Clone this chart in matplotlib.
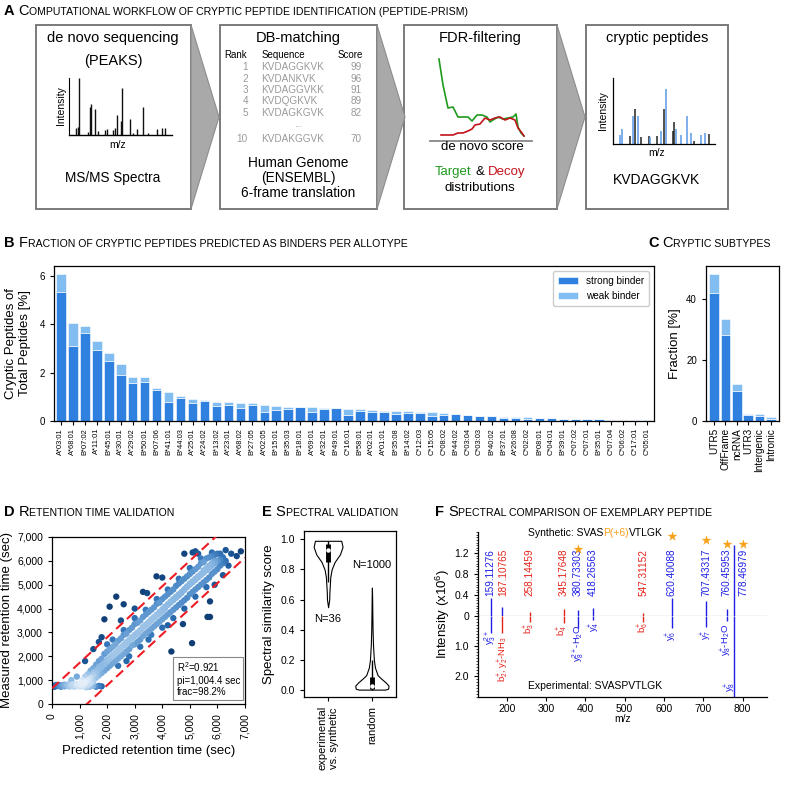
import numpy as np
import matplotlib
matplotlib.use('Agg')
import matplotlib.pyplot as plt
from matplotlib.patches import Rectangle, Polygon
from matplotlib.colors import LinearSegmentedColormap
from matplotlib.ticker import FuncFormatter, MultipleLocator

plt.rcParams['font.family'] = ['Liberation Sans', 'DejaVu Sans']
plt.rcParams['mathtext.fontset'] = 'custom'
plt.rcParams['mathtext.rm'] = 'Liberation Sans'
plt.rcParams['mathtext.it'] = 'Liberation Sans:italic'
plt.rcParams['mathtext.bf'] = 'Liberation Sans:bold'
plt.rcParams['axes.linewidth'] = 0.9

# ---------------- data ----------------
# Panel A mini charts
spec1_x = [7, 9, 10, 18, 20, 21, 25, 28, 35, 36.5, 43, 45, 47, 50, 51, 59, 62, 66, 72, 77, 85, 90, 93]
spec1_h = [0.12, 0.14, 1.0, 0.06, 0.5, 0.55, 0.45, 0.07, 0.08, 0.1, 0.08, 0.12, 0.35, 0.25, 0.82, 0.28, 0.04, 0.1, 0.5, 0.03, 0.1, 0.12, 0.12]
db_rank = ['1', '2', '3', '4', '5', '10']
db_seq = ['KVDAGGKVK', 'KVDANKVK', 'KVDAGGVKK', 'KVDQGKVK', 'KVDAGKGVK', 'KVDAKGGVK']
db_score = ['99', '96', '91', '89', '82', '70']
fdr_target_x = [9, 13, 18, 23, 28, 33, 38, 42, 47, 52, 57, 60, 63, 68, 73, 78, 83, 86, 88, 91, 94]
fdr_target_y = [82, 56, 33, 34, 24, 24, 24, 20, 26, 26, 24, 19, 21, 24, 22, 23, 24, 27, 14, 8, 5]
fdr_decoy_x = [11, 23, 28, 33, 38, 42, 45, 50, 55, 60, 65, 70, 75, 80, 85, 88, 92, 94]
fdr_decoy_y = [6, 6, 8, 8, 10, 12, 16, 17, 23, 21, 23, 24, 21, 23, 21, 13, 8, 5]
spec4_x = [7.2, 8.9, 17, 19.7, 21.3, 24.9, 27.9, 35.4, 36.7, 43.6, 46.6, 49.8, 51.8, 58.4, 59.7, 61.6, 66.9, 72.5, 76.4, 79.3, 85.9, 89.8, 94.4]
spec4_h = [0.14, 0.22, 0.12, 0.43, 0.53, 0.43, 0.1, 0.12, 0.1, 0.12, 0.2, 0.53, 0.84, 0.2, 0.34, 0.22, 0.14, 0.43, 0.17, 0.05, 0.14, 0.17, 0.15]
spec4_blue = [1, 1, 0, 1, 0, 1, 0, 0, 1, 0, 1, 0, 1, 0, 0, 1, 1, 1, 1, 0, 1, 1, 0]

# Panel B
allotypes = ['A*03:01', 'A*68:01', 'B*07:02', 'A*11:01', 'B*45:01', 'A*30:01', 'A*29:02', 'B*50:01',
             'B*07:06', 'B*41:01', 'B*44:03', 'A*25:01', 'A*24:02', 'B*13:02', 'A*23:01', 'A*68:02',
             'B*27:05', 'A*02:05', 'B*15:01', 'B*35:03', 'B*18:01', 'A*69:01', 'A*32:01', 'B*49:01',
             'C*16:01', 'B*58:01', 'A*02:01', 'A*01:01', 'B*35:08', 'B*14:02', 'C*12:03', 'C*15:05',
             'C*08:02', 'B*44:02', 'C*03:04', 'C*03:03', 'B*40:02', 'B*37:01', 'A*26:08', 'C*02:02',
             'B*08:01', 'C*04:01', 'B*39:01', 'C*07:02', 'C*07:01', 'B*35:01', 'C*07:04', 'C*06:02',
             'C*17:01', 'C*05:01']
binder_total = [6.07, 4.03, 3.93, 3.29, 2.82, 2.35, 1.83, 1.83, 1.36, 1.18, 1.03, 0.92, 0.87, 0.78, 0.78, 0.74,
                0.73, 0.67, 0.60, 0.59, 0.56, 0.56, 0.54, 0.52, 0.48, 0.48, 0.44, 0.43, 0.43, 0.41, 0.37, 0.37,
                0.31, 0.28, 0.25, 0.21, 0.21, 0.15, 0.15, 0.15, 0.12, 0.12, 0.10, 0.10, 0.09, 0.08, 0.06, 0.05,
                0.04, 0.03]
binder_strong = [5.31, 3.09, 3.64, 2.93, 2.47, 1.88, 1.58, 1.62, 1.30, 0.78, 0.96, 0.75, 0.84, 0.60, 0.67, 0.55,
                 0.65, 0.36, 0.45, 0.48, 0.56, 0.37, 0.49, 0.52, 0.25, 0.41, 0.36, 0.36, 0.29, 0.33, 0.33, 0.19,
                 0.23, 0.27, 0.23, 0.20, 0.19, 0.11, 0.14, 0.10, 0.12, 0.11, 0.09, 0.09, 0.08, 0.07, 0.05, 0.04,
                 0.03, 0.02]

# Panel C
subtypes = ['UTR5', 'OffFrame', 'ncRNA', 'UTR3', 'Intergenic', 'Intronic']
subtype_total = [48.3, 33.4, 12.0, 2.3, 2.2, 1.2]
subtype_strong = [42.0, 28.3, 9.9, 2.0, 1.5, 0.5]

# Panel D  (predicted, measured) retention times in seconds
rt_points = [
    (50, 760), (120, 740), (200, 780), (260, 750), (330, 720), (400, 770), (460, 740), (520, 800), (580, 760),
    (640, 730), (700, 790), (760, 750), (820, 720), (880, 780), (940, 760), (1000, 800), (1060, 740),
    (1120, 820), (1180, 760), (1240, 700), (1300, 780), (1360, 720), (1420, 760), (150, 800), (300, 790),
    (450, 810), (600, 820), (750, 830), (900, 850), (1050, 880), (1200, 900), (1350, 850), (1500, 760),
    (1600, 720), (1700, 760), (1800, 740), (80, 720), (350, 760), (680, 760), (980, 740), (1150, 760),
    (1100, 1000), (1200, 1150), (1300, 1000), (1300, 1250), (1400, 1100), (1400, 1400), (1400, 900),
    (1500, 1200), (1500, 1500), (1500, 950), (1500, 1300), (1600, 1300), (1600, 1650), (1600, 1100),
    (1600, 1400), (1700, 1450), (1700, 1800), (1700, 1200), (1700, 1550), (1800, 1550), (1800, 1900),
    (1800, 1300), (1800, 1620), (1900, 1650), (1900, 2100), (1900, 1400), (1900, 1720), (2000, 1780),
    (2000, 2200), (2000, 1500), (2000, 1850), (2000, 2500), (2100, 1900), (2100, 2300), (2100, 1600),
    (2100, 1950), (2200, 2000), (2200, 2400), (2200, 1700), (2200, 2050), (2200, 2700), (2300, 2100),
    (2300, 2500), (2300, 1800), (2300, 2150), (2400, 2200), (2400, 2650), (2400, 1900), (2400, 2280),
    (2400, 1600), (2500, 2300), (2500, 2750), (2500, 2000), (2500, 2380), (2600, 2450), (2600, 2900),
    (2600, 2100), (2600, 2480), (2600, 3100), (2700, 2550), (2700, 2950), (2700, 2200), (2700, 2600),
    (2800, 2650), (2800, 3100), (2800, 2300), (2800, 2700), (2800, 2000), (2900, 2750), (2900, 3200),
    (2900, 2450), (2900, 2800), (3000, 2850), (3000, 3350), (3000, 2500), (3000, 2900), (3000, 3600),
    (3100, 2950), (3100, 3400), (3100, 2600), (3100, 3000), (3200, 3050), (3200, 3500), (3200, 2700),
    (3200, 3100), (3200, 2400), (3300, 3200), (3300, 3650), (3300, 2850), (3300, 3230), (3400, 3300),
    (3400, 3750), (3400, 2950), (3400, 3330), (3400, 3950), (3500, 3400), (3500, 3850), (3500, 3050),
    (3500, 3430), (3600, 3500), (3600, 3950), (3600, 3150), (3600, 3550), (3600, 2900), (3700, 3600),
    (3700, 4050), (3700, 3250), (3700, 3650), (3800, 3700), (3800, 4200), (3800, 3350), (3800, 3750),
    (3800, 4400), (3900, 3800), (3900, 4250), (3900, 3450), (3900, 3860), (4000, 3900), (4000, 4400),
    (4000, 3550), (4000, 3970), (4000, 3200), (4100, 4000), (4100, 4500), (4100, 3650), (4100, 4080),
    (4200, 4150), (4200, 4600), (4200, 3750), (4200, 4180), (4200, 4800), (4300, 4250), (4300, 4700),
    (4300, 3850), (4300, 4290), (4400, 4350), (4400, 4800), (4400, 3950), (4400, 4400), (4400, 3600),
    (4500, 4450), (4500, 4950), (4500, 4050), (4500, 4500), (4600, 4550), (4600, 5050), (4600, 4150),
    (4600, 4600), (4600, 5250), (4700, 4650), (4700, 5150), (4700, 4250), (4700, 4700), (4800, 4780),
    (4800, 5250), (4800, 4350), (4800, 4820), (4800, 4000), (4900, 4900), (4900, 5350), (4900, 4450),
    (4900, 4930), (5000, 5000), (5000, 5450), (5000, 4600), (5000, 5050), (5000, 5700), (5100, 5100),
    (5100, 5550), (5100, 4700), (5100, 5150), (5200, 5200), (5200, 5650), (5200, 4800), (5200, 5250),
    (5200, 4500), (5300, 5300), (5300, 5750), (5300, 4900), (5300, 5350), (5400, 5400), (5400, 5900),
    (5400, 5000), (5400, 5450), (5400, 6100), (5500, 5500), (5500, 5950), (5500, 5100), (5500, 5600),
    (5600, 5600), (5600, 6100), (5600, 5200), (5600, 5700), (5600, 4900), (5700, 5700), (5700, 6150),
    (5700, 5300), (5700, 5800), (5800, 5800), (5800, 6200), (5800, 5450), (5800, 5900), (5800, 6350),
    (5900, 5900), (5900, 6250), (5900, 5550), (5900, 6000), (6000, 6000), (6000, 6300), (6000, 5650),
    (6100, 6050), (6100, 5800), (6100, 6300), (6200, 6150), (6200, 5900), (6300, 6000),
    (2330, 4500), (2090, 4080), (2600, 4180), (1900, 3550), (5080, 2550), (4330, 2200), (5640, 3650),
    (5730, 3650), (5730, 4300), (4750, 3350), (3790, 5350), (3450, 4650), (3000, 4000), (1500, 2300),
    (1800, 2800), (2500, 3500), (6500, 6300), (6850, 6400), (6300, 6450), (4800, 6300), (5200, 6400),
    (5100, 6350), (6700, 6200), (1200, 1800), (1700, 2600), (3300, 4700), (4000, 5300), (5300, 6300),
    (2700, 1800), (3500, 2700), (4200, 3300), (6200, 5400), (6400, 5800), (5900, 5000), (700, 1000),
    (900, 1150)]
rt_predicted = [p[0] for p in rt_points]
rt_measured = [p[1] for p in rt_points]
rt_slope, rt_intercept, rt_pi = 1.07, -350.0, 1004.4

# Panel E violin outlines (score level, half width)
exp_levels = [0.55, 0.60, 0.65, 0.70, 0.75, 0.80, 0.85, 0.90, 0.95, 0.99]
exp_half = [0.0, 0.025, 0.03, 0.04, 0.05, 0.08, 0.15, 0.27, 0.33, 0.30]
rand_levels = [0.004, 0.01, 0.03, 0.05, 0.08, 0.10, 0.15, 0.20, 0.30, 0.40, 0.50, 0.60, 0.68]
rand_half = [0.30, 0.37, 0.38, 0.32, 0.20, 0.13, 0.07, 0.045, 0.025, 0.015, 0.01, 0.006, 0.0]
exp_box = (0.72, 0.85, 0.93, 0.97, 0.99)   # whisker lo, q1, median, q3, whisker hi
rand_box = (0.0, 0.01, 0.03, 0.09, 0.20)

# Panel F
f_mz = [159.11276, 187.10765, 258.14459, 345.17648, 380.73303, 418.26563, 547.31152, 620.40088,
        707.43317, 760.45953, 778.46979]
f_syn = [0.34, 0.18, 0.08, 0.13, 0.11, 0.15, 0.06, 0.34, 0.29, 0.13, 1.35]
f_exp = [0.55, 0.55, 0.19, 0.24, 0.40, 0.13, 0.19, 0.40, 0.35, 0.15, 2.75]
f_syn_col = ['b', 'b', 'r', 'r', 'b', 'b', 'r', 'b', 'b', 'b', 'b']
f_exp_col = ['b', 'r', 'r', 'r', 'b', 'b', 'r', 'b', 'b', 'b', 'b']
f_lab_col = ['b', 'r', 'r', 'r', 'b', 'b', 'r', 'b', 'b', 'b', 'b']
f_lab_mz = [159, 190, 258, 345, 381, 418, 547, 620, 707, 760, 802]
f_star_mz = [381, 620, 707, 760, 802]
f_star_y = [1.28, 1.52, 1.45, 1.37, 1.37]
f_ions = [r'y$_3^{2+}$', r'b$_2^{+}$, y$_2^{+}$-NH$_3$', r'b$_3^{+}$', r'b$_4^{+}$', r'y$_8^{2+}$-H$_2$O',
          r'y$_4^{+}$', r'b$_6^{+}$', r'y$_6^{+}$', r'y$_7^{+}$', r'y$_8^{+}$-H$_2$O', r'y$_8^{+}$']
f_ion_x = [157, 192, 258, 343, 382, 424, 547, 620, 707, 760, 770]
f_ion_y = [0.46, 0.66, 0.25, 0.30, 0.27, 0.18, 0.20, 0.48, 0.45, 0.25, 2.2]

# ---------------- figure ----------------
W = H = 785
fig = plt.figure(figsize=(7.85, 7.85), dpi=100)
BLUE = '#1f1fe6'
RED = '#e3241b'
COL = {'b': BLUE, 'r': RED}
STRONG = '#3080e0'
WEAK = '#82bdf2'
ORANGE = '#f7a21b'


def px_axes(l, t, r, b):
    return fig.add_axes([l / W, 1 - b / H, (r - l) / W, (b - t) / H])


bg = fig.add_axes([0, 0, 1, 1])
bg.set_xlim(0, W)
bg.set_ylim(H, 0)
bg.axis('off')

# ---- Panel A boxes and chevrons
boxes = [(36, 191), (220, 377), (404, 557), (586, 728)]
for l, r in boxes:
    bg.add_patch(Rectangle((l, 25), r - l, 184, facecolor='white', edgecolor='#7a7a7a', lw=1.4))
for l, r in boxes[:3]:
    bg.add_patch(Polygon([(r, 25), (r + 28, 117), (r, 209)], closed=True, facecolor='#a9a9a9',
                         edgecolor='#8c8c8c', lw=0.8))

# mini spectrum box 1
a1 = px_axes(69, 78, 172, 135)
a1.vlines(spec1_x, 0, spec1_h, color='#111111', lw=1.0)
a1.set_xlim(0, 100)
a1.set_ylim(0, 1.0)
a1.set_xticks([])
a1.set_yticks([])
a1.set_facecolor('none')
for s in ['top', 'right']:
    a1.spines[s].set_visible(False)
a1.spines['left'].set_linewidth(0.8)
a1.spines['bottom'].set_linewidth(1.0)

# FDR plot box 3
a3 = px_axes(430, 55, 532, 141)
a3.plot(fdr_target_x, fdr_target_y, color='#1e9a1e', lw=1.2)
a3.plot(fdr_decoy_x, fdr_decoy_y, color='#c2131b', lw=1.2)
a3.set_xlim(0, 102)
a3.set_ylim(0, 86)
a3.set_xticks([])
a3.set_yticks([])
a3.set_facecolor('none')
for s in ['top', 'right', 'left']:
    a3.spines[s].set_visible(False)
a3.spines['bottom'].set_color('#888888')
a3.spines['bottom'].set_linewidth(1.3)

# mini spectrum box 4
a4 = px_axes(613, 78, 715, 144)
for xv, hv, bl in zip(spec4_x, spec4_h, spec4_blue):
    a4.vlines(xv, 0, hv, color='#5a9ae8' if bl else '#222222', lw=1.1)
a4.set_xlim(0, 100)
a4.set_ylim(0, 1.0)
a4.set_xticks([])
a4.set_yticks([])
a4.set_facecolor('none')
for s in ['top', 'right']:
    a4.spines[s].set_visible(False)

# ---- Panel B
axB = px_axes(54, 266, 654, 421)
xB = np.arange(len(allotypes))
weak = np.array(binder_total) - np.array(binder_strong)
axB.bar(xB, binder_strong, width=0.8, color=STRONG, edgecolor='white', lw=0.4, label='strong binder')
axB.bar(xB, weak, bottom=binder_strong, width=0.8, color=WEAK, edgecolor='white', lw=0.4, label='weak binder')
axB.set_xlim(-0.58, len(allotypes) - 0.42)
axB.set_ylim(0, 6.4)
axB.set_yticks([0, 2, 4, 6])
axB.set_xticks(xB)
axB.set_xticklabels(allotypes, rotation=90, fontsize=5.4)
axB.tick_params(axis='y', labelsize=7, length=3)
axB.tick_params(axis='x', length=3, pad=2)
axB.set_ylabel('Cryptic Peptides of\nTotal Peptides [%]', fontsize=9.5, labelpad=6)
axB.legend(loc='upper right', fontsize=7.2, frameon=True, edgecolor='#cccccc', fancybox=True,
           handlelength=2.0, handleheight=0.7, borderpad=0.5, labelspacing=0.5, framealpha=1)

# ---- Panel C
axC = px_axes(706, 266, 779, 421)
xC = np.arange(len(subtypes))
cweak = np.array(subtype_total) - np.array(subtype_strong)
axC.bar(xC, subtype_strong, width=0.85, color=STRONG, edgecolor='white', lw=0.4)
axC.bar(xC, cweak, bottom=subtype_strong, width=0.85, color=WEAK, edgecolor='white', lw=0.4)
axC.set_xlim(-0.7, 5.7)
axC.set_ylim(0, 50.8)
axC.set_yticks([0, 20, 40])
axC.set_xticks(xC)
axC.set_xticklabels(subtypes, rotation=90, fontsize=7.2)
axC.tick_params(axis='y', labelsize=7, length=3)
axC.tick_params(axis='x', length=3, pad=2)
axC.set_ylabel('Fraction [%]', fontsize=9.5, labelpad=4)

# ---- Panel D
axD = px_axes(52, 537, 245, 704)
px_ = np.array(rt_predicted, float)
my_ = np.array(rt_measured, float)
dens = np.exp(-(((px_[:, None] - px_[None, :]) / 380.0) ** 2 + ((my_[:, None] - my_[None, :]) / 380.0) ** 2) / 2).sum(1)
dn = (dens - dens.min()) / (dens.max() - dens.min())
order = np.argsort(dn)
cmap = LinearSegmentedColormap.from_list('rt', ['#0f3d73', '#1d5c9e', '#3f80c2', '#8cb9e3', '#e3eef9'])
axD.scatter(px_[order], my_[order], s=21, c=cmap(dn[order] ** 1.3), lw=0, zorder=2)
xl = np.array([0, 7000])
for off in (rt_pi, -rt_pi):
    axD.plot(xl, rt_slope * xl + rt_intercept + off, color='#ee1c25', lw=1.5, dashes=(4.5, 2.5), zorder=3)
axD.set_xlim(0, 7000)
axD.set_ylim(0, 7000)
ticks = np.arange(0, 7001, 1000)
axD.set_xticks(ticks)
axD.set_yticks(ticks)
fmt = FuncFormatter(lambda v, p: f'{int(v):,}')
axD.xaxis.set_major_formatter(fmt)
axD.yaxis.set_major_formatter(fmt)
axD.tick_params(axis='x', labelrotation=90, labelsize=7.5, length=3)
axD.tick_params(axis='y', labelsize=7.5, length=3)
axD.set_xlabel('Predicted retention time (sec)', fontsize=9.5, labelpad=4)
axD.set_ylabel('Measured retention time (sec)', fontsize=9.5, labelpad=3)
axD.text(4520, 300, 'R$^2$=0.921\npi=1,004.4 sec\nfrac=98.2%', fontsize=7, va='bottom', ha='left',
         linespacing=1.15, zorder=5,
         bbox=dict(boxstyle='square,pad=0.35', facecolor='white', edgecolor='#888888', lw=0.8))

# ---- Panel E
axE = px_axes(304, 531, 396, 697)
for pos, lev, half, bx in [(0, exp_levels, exp_half, exp_box), (1, rand_levels, rand_half, rand_box)]:
    lev = np.array(lev)
    half = np.array(half)
    axE.fill_betweenx(lev, pos - half, pos + half, facecolor='white', edgecolor='black', lw=0.8)
    axE.vlines(pos, bx[0], bx[4], color='black', lw=1.0)
    axE.vlines(pos, bx[1], bx[3], color='black', lw=3.5)
    axE.scatter([pos], [bx[2]], s=5, color='white', zorder=5)
axE.text(0, 0.47, 'N=36', ha='center', va='center', fontsize=8)
axE.text(1, 0.83, 'N=1000', ha='center', va='center', fontsize=8)
axE.set_xlim(-0.55, 1.55)
axE.set_ylim(-0.045, 1.055)
axE.set_yticks([0, 0.2, 0.4, 0.6, 0.8, 1.0])
axE.set_yticklabels(['0.0', '0.2', '0.4', '0.6', '0.8', '1.0'])
axE.set_xticks([0, 1])
axE.set_xticklabels(['experimental\nvs. synthetic', 'random'], rotation=90, fontsize=8)
axE.tick_params(axis='y', labelsize=7.5, length=3)
axE.tick_params(axis='x', length=3)
axE.set_ylabel('Spectral similarity score', fontsize=9.5, labelpad=4)

# ---- Panel F
fx0, fx1 = 127, 862
axFt = px_axes(478, 532, 767, 616)
axFb = px_axes(478, 616, 767, 697)
for mz, v, c in zip(f_mz, f_syn, f_syn_col):
    axFt.vlines(mz, 0, v, color=COL[c], lw=1.0)
for mz, v, c in zip(f_mz, f_exp, f_exp_col):
    axFb.vlines(mz, 0, v, color=COL[c], lw=1.0)
axFt.axhline(0, color='#444444', lw=0.8)
for mz, v, c in zip(f_lab_mz, f_mz, f_lab_col):
    axFt.text(mz, 0.38, f'{v:.5f}', rotation=90, ha='center', va='bottom', fontsize=7.2, color=COL[c])
axFt.scatter(f_star_mz, f_star_y, marker='*', s=55, color=ORANGE, zorder=5, clip_on=False, lw=0)
for txt, x, y, c in zip(f_ions, f_ion_x, f_ion_y, f_exp_col):
    axFb.text(x, y, txt, rotation=90, ha='center', va='top', fontsize=6.8, color=COL[c])
for a in (axFt, axFb):
    a.set_xlim(fx0, fx1)
    a.set_facecolor('none')
    a.spines['top'].set_visible(False)
    a.spines['right'].set_visible(False)
    a.tick_params(axis='y', labelsize=7.5, length=3)
axFt.spines['bottom'].set_visible(False)
axFt.set_xticks([])
axFt.set_ylim(0, 1.6)
axFt.set_yticks([0, 0.4, 0.8, 1.2])
axFt.set_yticklabels(['0', '0.4', '0.8', '1.2'])
axFt.yaxis.set_minor_locator(MultipleLocator(0.05))
axFb.set_ylim(2.7, 0)
axFb.set_yticks([1.0, 2.0])
axFb.set_yticklabels(['1.0', '2.0'])
axFb.yaxis.set_minor_locator(MultipleLocator(0.1))
for a in (axFt, axFb):
    a.tick_params(axis='y', which='minor', length=1.5, width=0.5)
axFb.set_xticks([200, 300, 400, 500, 600, 700, 800])
axFb.tick_params(axis='x', labelsize=7.5, length=3, pad=2)
axFb.set_xlabel('m/z', fontsize=7.5, labelpad=0)

# ---------------- foreground text ----------------
fg = fig.add_axes([0, 0, 1, 1])
fg.set_xlim(0, W)
fg.set_ylim(H, 0)
fg.axis('off')
rend = fig.canvas.get_renderer()


def runs(x, y, parts, center=False):
    items = []
    total = 0.0
    for p in parts:
        if isinstance(p, (int, float)):
            items.append((None, p))
            total += p
            continue
        txt, size, kw = p
        t = fg.text(0, y, txt, fontsize=size, va='baseline', ha='left', **kw)
        w = t.get_window_extent(renderer=rend).width
        items.append((t, w))
        total += w
    x0 = x - total / 2 if center else x
    for t, w in items:
        if t is not None:
            t.set_x(x0)
        x0 += w


def gap(size):
    return 0.278 * size * 100 / 72


BIG, SMALL = 10.5, 7.6


def sc_title(x, y, letter, words):
    runs(x, y, [(letter, BIG, {'fontweight': 'bold'}), gap(BIG), (words[0], BIG, {}),
                (words[1:].upper(), SMALL, {})])


sc_title(4, 15, 'A', 'Computational workflow of cryptic peptide identification (peptide-prism)')
sc_title(4, 247, 'B', 'Fraction of cryptic peptides predicted as binders per allotype')
sc_title(648, 247, 'C', 'Cryptic subtypes')
sc_title(4, 516, 'D', 'Retention time validation')
sc_title(262, 516, 'E', 'Spectral validation')
sc_title(435, 516, 'F', 'Spectral comparison of exemplary peptide')

# box texts
fg.text(113, 38, 'de novo sequencing', ha='center', va='center', fontsize=10.5)
fg.text(113, 61, '(PEAKS)', ha='center', va='center', fontsize=10.5)
fg.text(61, 106, 'Intensity', ha='center', va='center', rotation=90, fontsize=7.5)
fg.text(118, 145, 'm/z', ha='center', va='center', fontsize=7.5)
fg.text(113, 178, 'MS/MS Spectra', ha='center', va='center', fontsize=9.8)

fg.text(298, 38, 'DB-matching', ha='center', va='center', fontsize=10.5)
fg.text(236, 55, 'Rank', ha='center', va='center', fontsize=7)
fg.text(283, 55, 'Sequence', ha='center', va='center', fontsize=7)
fg.text(350, 55, 'Score', ha='center', va='center', fontsize=7)
row_y = [67, 79, 90, 101, 113, 139]
for yy, rk, sq, sc in zip(row_y, db_rank, db_seq, db_score):
    fg.text(248, yy, rk, ha='right', va='center', fontsize=7.2, color='#9a9a9a')
    fg.text(261, yy, sq, ha='left', va='center', fontsize=7.2, color='#9a9a9a')
    fg.text(362, yy, sc, ha='right', va='center', fontsize=7.2, color='#9a9a9a')
fg.text(298, 124, '...', ha='center', va='center', fontsize=7.2, color='#9a9a9a')
fg.text(298, 163, 'Human Genome', ha='center', va='center', fontsize=9.8)
fg.text(298, 178, '(ENSEMBL)', ha='center', va='center', fontsize=9.8)
fg.text(298, 193, '6-frame translation', ha='center', va='center', fontsize=9.8)

fg.text(480, 38, 'FDR-filtering', ha='center', va='center', fontsize=10.5)
fg.text(482, 147, 'de novo score', ha='center', va='center', fontsize=9.5)
runs(480, 175, [('Target', 9.5, {'color': '#1e9a1e'}), gap(9.5), ('&', 9.5, {}), gap(9.5),
                ('Decoy', 9.5, {'color': '#c2131b'})], center=True)
fg.text(480, 188, 'distributions', ha='center', va='center', fontsize=9.5)

fg.text(657, 38, 'cryptic peptides', ha='center', va='center', fontsize=10.5)
fg.text(603, 111, 'Intensity', ha='center', va='center', rotation=90, fontsize=7.5)
fg.text(657, 153, 'm/z', ha='center', va='center', fontsize=7.5)
fg.text(657, 180, 'KVDAGGKVK', ha='center', va='center', fontsize=10)

# panel F annotations
runs(528, 536, [('Synthetic: SVAS', 7.5, {}), ('P(+6)', 7.5, {'color': ORANGE}), ('VTLGK', 7.5, {})])
fg.text(528, 689, 'Experimental: SVASPVTLGK', ha='left', va='baseline', fontsize=7.5)
fg.text(443, 614, 'Intensity (x10$^6$)', ha='center', va='center', rotation=90, fontsize=9.5)

fig.savefig('out.png', dpi=100)
